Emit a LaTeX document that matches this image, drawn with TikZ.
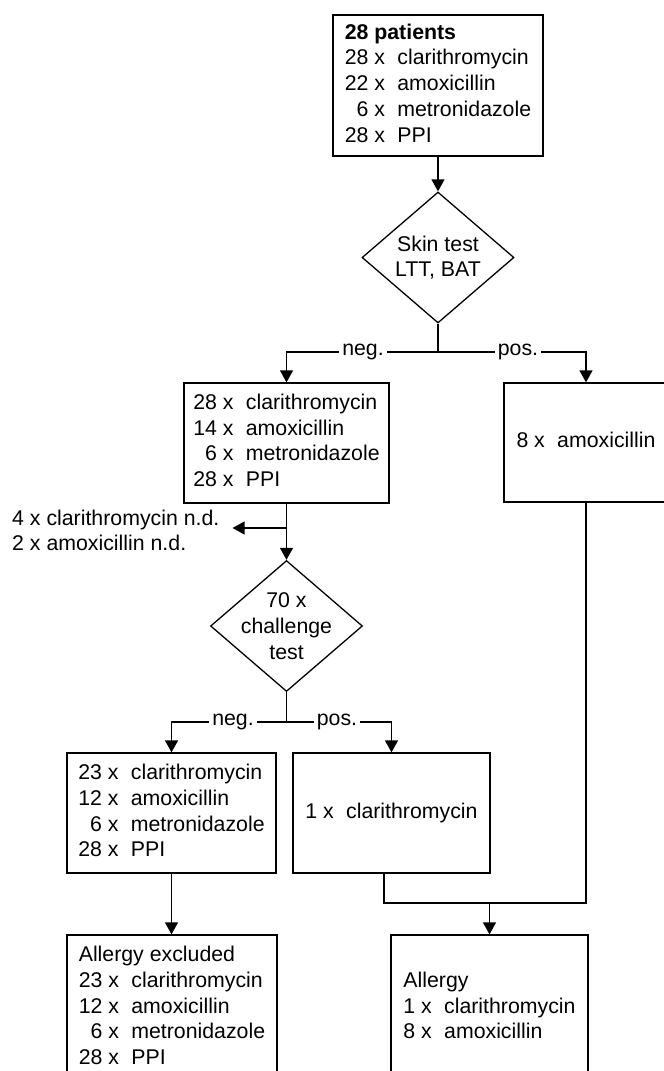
\documentclass[tikz,border=0pt]{standalone}
\usepackage{fontspec}
\setmainfont{Liberation Sans}
\usetikzlibrary{arrows.meta,shapes.geometric,calc}
\newenvironment{druglist}{\begin{tabular}{@{}r@{~x\hspace{0.58em}}l@{}}}{\end{tabular}}
\begin{document}
\begin{tikzpicture}[x=1pt,y=-1pt,
  every node/.style={font=\fontsize{21.3pt}{25.7pt}\selectfont},
  box/.style={draw,line width=1.3pt,rectangle,inner sep=0pt},
  diam/.style={draw,line width=1.3pt,diamond,inner sep=0pt,aspect=1.16,minimum width=152pt,minimum height=131pt},
  conn/.style={line width=1.3pt},
  arr/.style={conn,-{Triangle[width=13pt,length=12pt]}},
  lab/.style={fill=white,inner xsep=3pt,inner ysep=1pt}]
\useasboundingbox (0,0) rectangle (664,1071);
\clip (0,0) rectangle (664,1071);

% boxes
\node[box,minimum width=210pt,minimum height=141pt] (top) at (438,85.5)
  {\begin{druglist}\multicolumn{2}{@{}l@{}}{\bfseries 28 patients}\\
   28 & clarithromycin\\ 22 & amoxicillin\\ 6 & metronidazole\\ 28 & PPI\end{druglist}};
\node[diam] (d1) at (438,257.5) {};
\node[align=center] (d1t) at (d1) {Skin test\\LTT, BAT};

\node[box,minimum width=205pt,minimum height=120pt] (box2) at (286.5,443)
  {\begin{druglist}28 & clarithromycin\\ 14 & amoxicillin\\ 6 & metronidazole\\ 28 & PPI\end{druglist}};
\node[box,minimum width=164pt,minimum height=119pt] (box3) at (586,442.5)
  {\begin{druglist}8 & amoxicillin\end{druglist}};

\node[anchor=west,align=left,inner sep=0pt] (nd) at (12,530.5)
  {4 x clarithromycin n.d.\\2 x amoxicillin n.d.};

\node[diam] (d2) at (286.5,626) {};
\node[align=center] (d2t) at (d2) {70 x\\challenge\\test};

\node[box,minimum width=209pt,minimum height=120pt] (box4) at (171.5,813)
  {\begin{druglist}23 & clarithromycin\\ 12 & amoxicillin\\ 6 & metronidazole\\ 28 & PPI\end{druglist}};
\node[box,minimum width=197pt,minimum height=120pt] (box5) at (391.5,813)
  {\begin{druglist}1 & clarithromycin\end{druglist}};

\node[box,minimum width=210pt,minimum height=146pt] (box6) at (172,1008)
  {\begin{druglist}\multicolumn{2}{@{}l@{}}{Allergy excluded}\\
   23 & clarithromycin\\ 12 & amoxicillin\\ 6 & metronidazole\\ 28 & PPI\end{druglist}};
\node[box,minimum width=197pt,minimum height=146pt] (box7) at (489.5,1008)
  {\begin{druglist}\multicolumn{2}{@{}l@{}}{Allergy}\\
   1 & clarithromycin\\ 8 & amoxicillin\end{druglist}};

% connectors
\draw[arr] (top.south) -- (d1.north);

\coordinate (j1) at (438,352);
\draw[conn] (d1.south) -- (j1);
\draw[arr] (j1) -| (box2.north);
\draw[arr] (j1) -| (box3.north);
\node[lab] (n1) at (363,352) {neg.};
\node[lab] (p1) at (518,352) {pos.};

\draw[arr] (box2.south) -- (d2.north);
\coordinate (j0) at (286.5,528);
\draw[arr] (j0) -- ($(j0 -| nd.east)+(13,0)$);

\coordinate (j2) at (286.5,722);
\draw[conn] (d2.south) -- (j2);
\draw[arr] (j2) -| (box4.north);
\draw[arr] (j2) -| (box5.north);
\node[lab] (n2) at (233,722) {neg.};
\node[lab] (p2) at (337,722) {pos.};

\draw[arr] (box4.south) -- (box4.south |- box6.north);

\coordinate (m1) at (384,903);
\draw[conn] (box5.south -| m1) -- (m1) -- (m1 -| box3.south) -- (box3.south);
\draw[arr] (box7.north |- m1) -- (box7.north);
\end{tikzpicture}
\end{document}
